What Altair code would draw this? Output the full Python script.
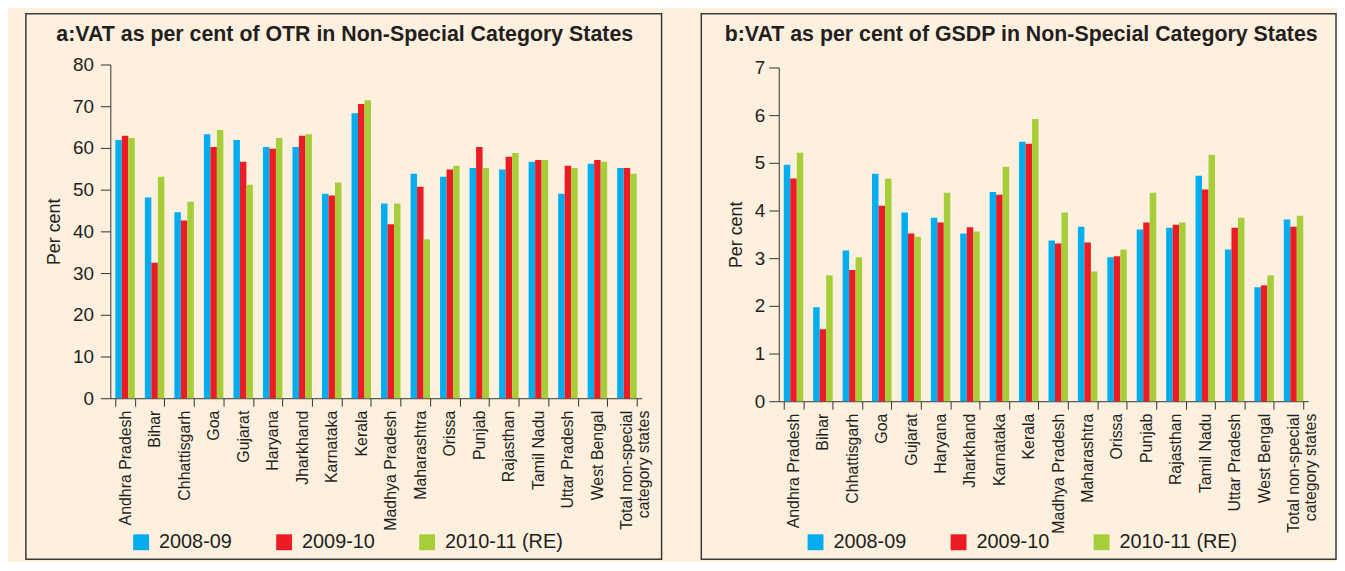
import altair as alt
import pandas as pd

states = ["Andhra Pradesh", "Bihar", "Chhattisgarh", "Goa", "Gujarat", "Haryana",
          "Jharkhand", "Karnataka", "Kerala", "Madhya Pradesh", "Maharashtra", "Orissa",
          "Punjab", "Rajasthan", "Tamil Nadu", "Uttar Pradesh", "West Bengal",
          "Total non-special category states"]
years = ["2008-09", "2009-10", "2010-11 (RE)"]
colors = ["#00AEEF", "#ED1C24", "#A6CE39"]

otr_2008_09 = [61.9, 48.1, 44.6, 63.3, 61.9, 60.2, 60.2, 49.0, 68.3, 46.7, 53.8, 53.1, 55.2, 54.8, 56.7, 49.0, 56.2, 55.2]
otr_2009_10 = [62.9, 32.5, 42.6, 60.2, 56.7, 59.8, 62.9, 48.6, 70.5, 41.7, 50.7, 54.8, 60.2, 57.9, 57.1, 55.7, 57.1, 55.2]
otr_2010_11 = [62.4, 53.1, 47.1, 64.3, 51.2, 62.4, 63.3, 51.7, 71.4, 46.7, 38.1, 55.7, 55.2, 58.8, 57.1, 55.2, 56.7, 53.8]

gsdp_2008_09 = [4.96, 1.97, 3.16, 4.77, 3.96, 3.85, 3.52, 4.39, 5.44, 3.37, 3.66, 3.02, 3.60, 3.64, 4.73, 3.18, 2.39, 3.81]
gsdp_2009_10 = [4.67, 1.51, 2.75, 4.10, 3.52, 3.75, 3.65, 4.33, 5.40, 3.31, 3.33, 3.04, 3.75, 3.70, 4.44, 3.64, 2.43, 3.66]
gsdp_2010_11 = [5.21, 2.64, 3.02, 4.67, 3.45, 4.37, 3.56, 4.92, 5.92, 3.96, 2.72, 3.18, 4.37, 3.75, 5.17, 3.85, 2.64, 3.89]

otr_ticks = [0, 10, 20, 30, 40, 50, 60, 70, 80]
gsdp_ticks = [0, 1, 2, 3, 4, 5, 6, 7]

title_a = "a:VAT as per cent of OTR in Non-Special Category States"
title_b = "b:VAT as per cent of GSDP in Non-Special Category States"

FONT = "Liberation Sans"
DARK = "#231F20"


def long_df(series):
    rows = []
    for yr, vals in zip(years, series):
        for st, v in zip(states, vals):
            rows.append({"state": st, "year": yr, "value": v})
    return pd.DataFrame(rows)


def panel(df, ymax, yticks, title, w, h, shift, frame, title_xy, legend_xy, label_pad):
    bars = alt.Chart(df).mark_bar().encode(
        x=alt.X("state:N", sort=states,
                scale=alt.Scale(paddingInner=0.34, paddingOuter=0.17),
                axis=alt.Axis(title=None, labelAngle=-90, tickBand="extent",
                              tickSize=8, labelPadding=4, labelFontSize=16,
                              labelLineHeight=17, labelOverlap=False, offset=-shift,
                              labelExpr="datum.label == 'Total non-special category states' ? ['Total non-special', 'category states'] : datum.label")),
        xOffset=alt.XOffset("year:N", sort=years,
                            scale=alt.Scale(paddingInner=0, paddingOuter=0)),
        y=alt.Y("value:Q",
                scale=alt.Scale(domain=[0, ymax], nice=False, range=[h - shift, -shift]),
                axis=alt.Axis(values=yticks, title="Per cent", tickSize=10,
                              labelPadding=label_pad, labelFontSize=19,
                              titleFontSize=18, titleFontWeight="normal",
                              titlePadding=9, grid=False)),
        color=alt.Color("year:N", sort=years,
                        scale=alt.Scale(domain=years, range=colors),
                        legend=alt.Legend(title=None, orient="none",
                                          legendX=legend_xy[0], legendY=legend_xy[1],
                                          direction="horizontal", symbolType="square",
                                          symbolSize=256, symbolStrokeWidth=0,
                                          labelFontSize=20, labelOffset=8,
                                          columnPadding=42, padding=0,
                                          labelColor=DARK, labelFont=FONT)),
    )
    box = alt.Chart(pd.DataFrame({"k": [0]})).mark_rect(
        fill="transparent", stroke="#3A3A3A", strokeWidth=1.5
    ).encode(
        x=alt.value(frame[0]), x2=alt.value(frame[1]),
        y=alt.value(frame[2]), y2=alt.value(frame[3]),
    )
    ttl = alt.Chart(pd.DataFrame({"t": [title]})).mark_text(
        font=FONT, fontSize=21.5, fontWeight="bold", color=DARK,
        align="center", baseline="middle"
    ).encode(text="t:N", x=alt.value(title_xy[0]), y=alt.value(title_xy[1]))
    return alt.layer(box, bars, ttl).properties(width=w, height=h)


left = panel(long_df([otr_2008_09, otr_2009_10, otr_2010_11]), 80, otr_ticks, title_a,
             535, 336, 3, (-85, 555, -54, 495), (236, -33), (21, 468), 7)
right = panel(long_df([gsdp_2008_09, gsdp_2009_10, gsdp_2010_11]), 7, gsdp_ticks, title_b,
              533, 336, 0, (-78, 561, -54, 495), (244, -33), (27, 468), 4)

chart = alt.hconcat(left, right, spacing=38).resolve_scale(
    color="independent"
).resolve_legend(color="independent").properties(
    padding={"left": 17, "top": 3, "right": 0, "bottom": 0}
).configure(
    background="#FDF0DF", font=FONT
).configure_view(
    strokeWidth=0
).configure_axis(
    domainColor="#333333", tickColor="#333333", labelColor=DARK, titleColor=DARK,
    labelFont=FONT, titleFont=FONT, domainWidth=1, tickWidth=1
)

chart.save("out.html", embed_options={"renderer": "svg", "actions": False})
